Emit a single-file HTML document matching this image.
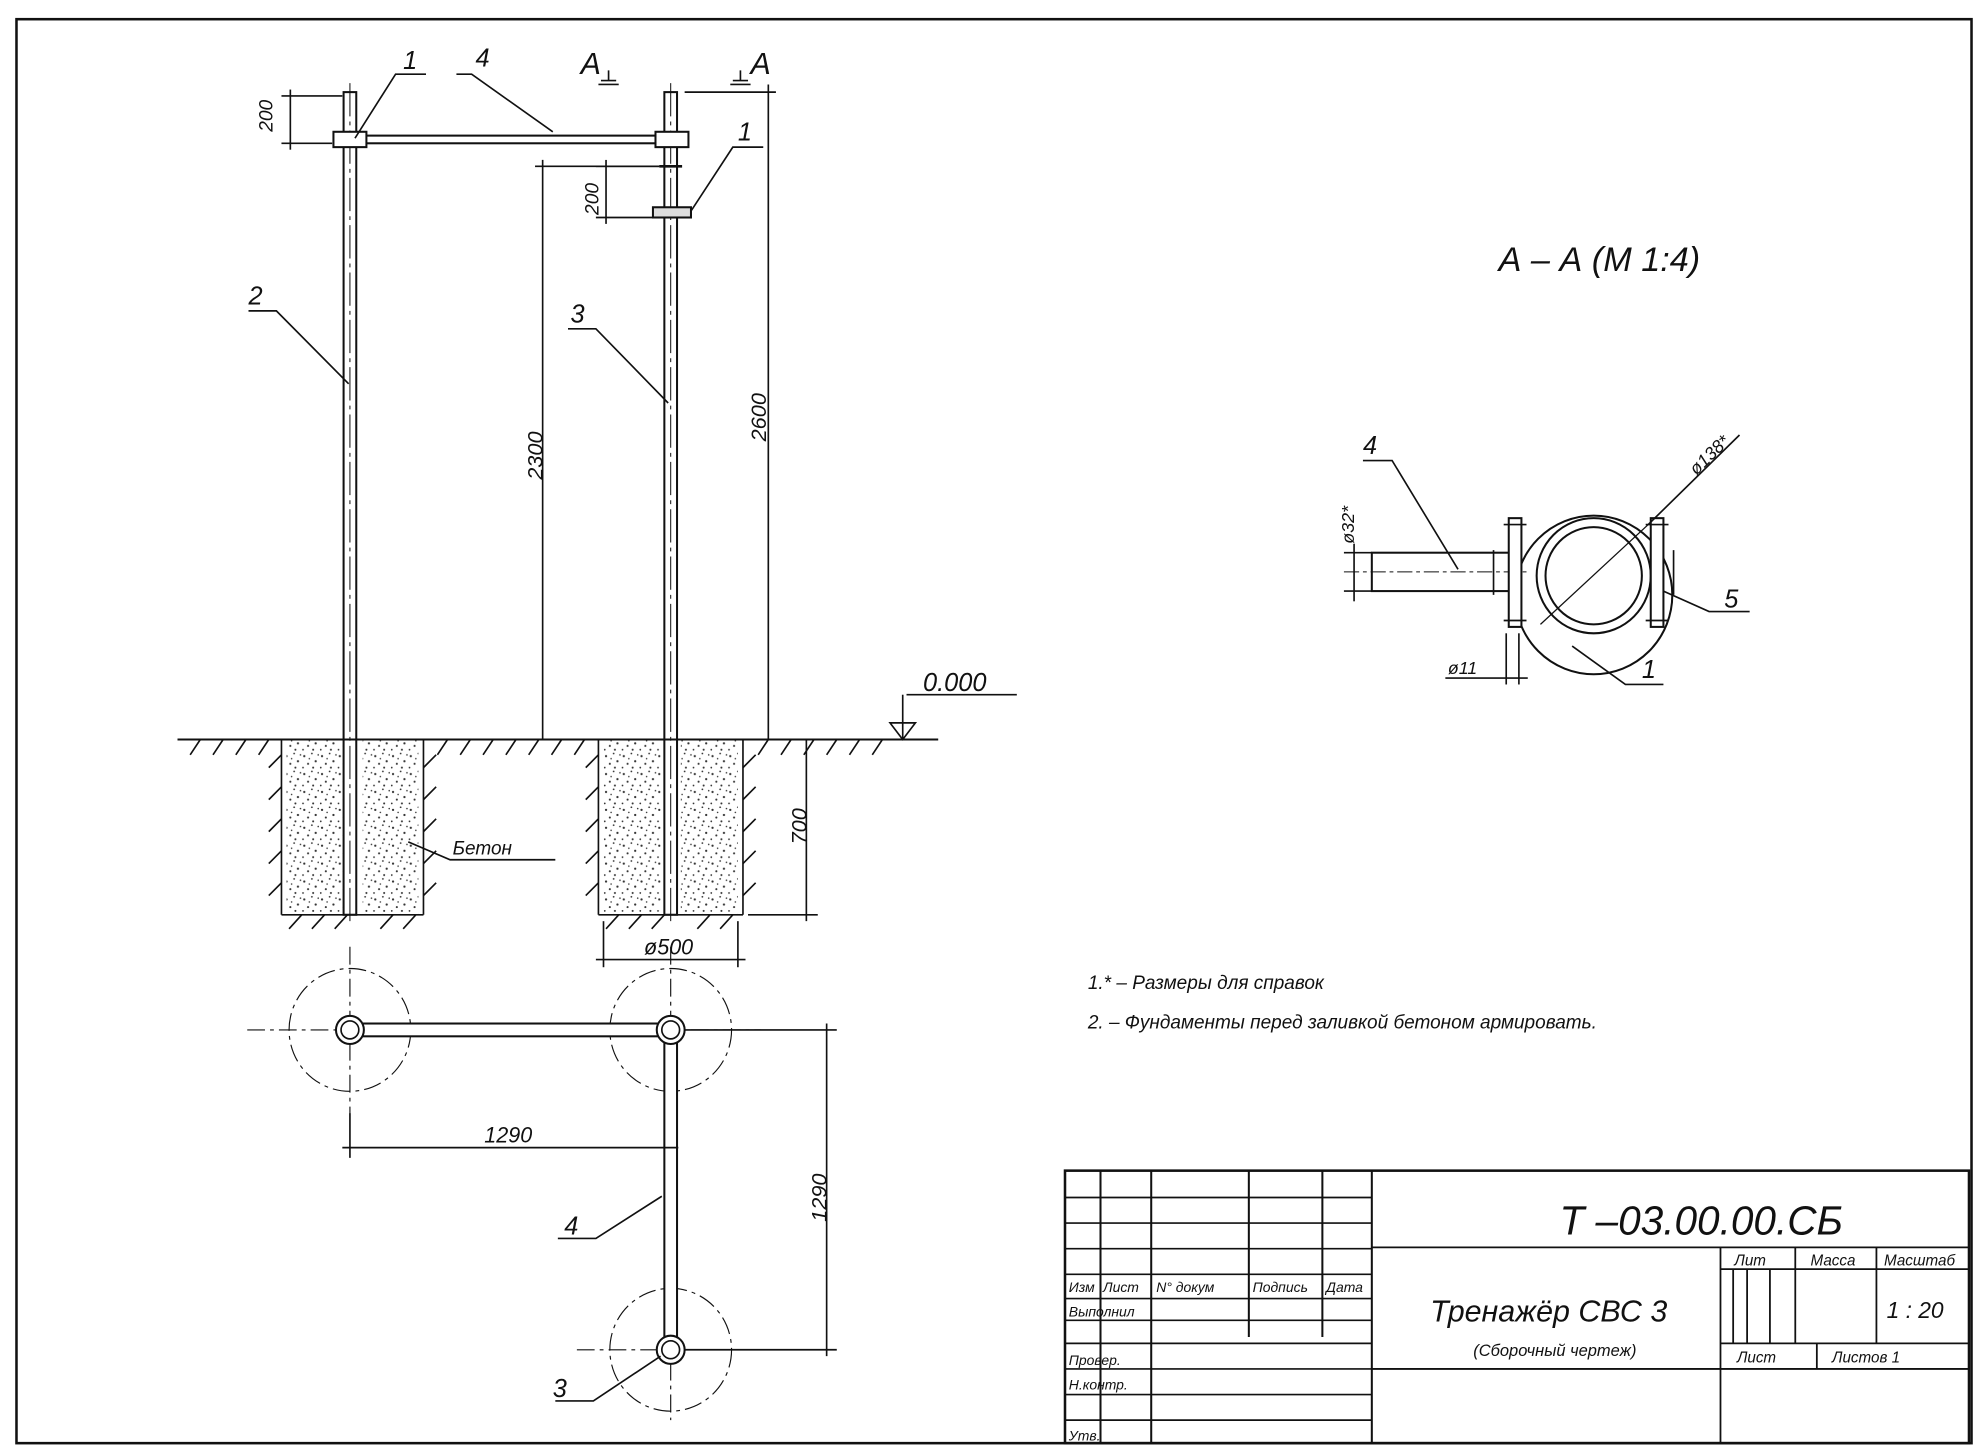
<!DOCTYPE html>
<html><head><meta charset="utf-8"><style>
html,body{margin:0;padding:0;background:#fff}
svg{display:block}
text{font-family:"Liberation Sans","DejaVu Sans",sans-serif;font-style:italic;fill:#111}
</style></head><body>
<svg width="1988" height="1447" viewBox="0 0 1568 1131" preserveAspectRatio="none" xmlns="http://www.w3.org/2000/svg">
<defs>
<pattern id="dots" width="14" height="14" patternUnits="userSpaceOnUse">
<circle cx="2" cy="3" r="0.9" fill="#333"/><circle cx="8" cy="1" r="0.7" fill="#333"/><circle cx="11" cy="7" r="0.9" fill="#333"/><circle cx="5" cy="9" r="0.8" fill="#333"/><circle cx="1" cy="12" r="0.7" fill="#333"/><circle cx="9" cy="12" r="0.8" fill="#333"/><circle cx="13" cy="2" r="0.6" fill="#333"/><circle cx="6" cy="5" r="0.6" fill="#333"/>
</pattern>
</defs>
<g fill="none" stroke="#111" stroke-width="1.3">
<!-- frame -->
<rect x="13" y="15" width="1542" height="1113" stroke-width="2"/>
<!-- foundations -->
<rect x="226" y="578" width="104" height="137" fill="url(#dots)" stroke="none"/>
<rect x="476" y="578" width="106" height="137" fill="url(#dots)" stroke="none"/>
<rect x="270" y="578" width="16" height="137" fill="#fff" stroke="none"/>
<rect x="521" y="578" width="16" height="137" fill="#fff" stroke="none"/>
<!-- posts -->
<rect x="271" y="72" width="10" height="643" fill="#fff" stroke-width="1.6"/>
<rect x="524" y="72" width="10" height="643" fill="#fff" stroke-width="1.6"/>
<line x1="276" y1="65" x2="276" y2="720" stroke-dasharray="26 4 3 4" stroke-width="0.8"/>
<line x1="529" y1="65" x2="529" y2="720" stroke-dasharray="26 4 3 4" stroke-width="0.8"/>
<!-- crossbar -->
<rect x="281" y="106" width="243" height="6" fill="#fff" stroke-width="1.6"/>
<rect x="263" y="103" width="26" height="12" fill="#fff" stroke-width="1.6"/>
<rect x="517" y="103" width="26" height="12" fill="#fff" stroke-width="1.6"/>
<rect x="515" y="162" width="30" height="8" fill="#ddd" stroke-width="1.6"/>
<line x1="520" y1="130" x2="538" y2="130" stroke-width="2"/>
<!-- dims -->
<line x1="222" y1="75" x2="270" y2="75"/><line x1="222" y1="112" x2="262" y2="112"/><line x1="229" y1="70" x2="229" y2="117"/>
<line x1="470" y1="130" x2="520" y2="130"/><line x1="470" y1="170" x2="515" y2="170"/><line x1="478" y1="125" x2="478" y2="175"/>
<line x1="422" y1="130" x2="520" y2="130"/><line x1="428" y1="125" x2="428" y2="578"/>
<line x1="540" y1="72" x2="612" y2="72"/><line x1="606" y1="66" x2="606" y2="578"/>
<line x1="590" y1="715" x2="645" y2="715"/><line x1="636" y1="578" x2="636" y2="720"/>
<line x1="476" y1="720" x2="476" y2="756"/><line x1="582" y1="720" x2="582" y2="756"/><line x1="470" y1="750" x2="588" y2="750"/>
<!-- ground -->
<line x1="140" y1="578" x2="740" y2="578" stroke-width="1.6"/>
<path d="M150 590l8-12M168 590l8-12M186 590l8-12M204 590l8-12M345 590l8-12M363 590l8-12M381 590l8-12M399 590l8-12M417 590l8-12M435 590l8-12M453 590l8-12M598 590l8-12M616 590l8-12M634 590l8-12M652 590l8-12M670 590l8-12M688 590l8-12"/>
<line x1="222" y1="578" x2="222" y2="715"/><line x1="334" y1="578" x2="334" y2="715"/>
<line x1="472" y1="578" x2="472" y2="715"/><line x1="586" y1="578" x2="586" y2="715"/>
<line x1="222" y1="715" x2="334" y2="715"/><line x1="472" y1="715" x2="586" y2="715"/>
<path d="M212 600l10-10M212 625l10-10M212 650l10-10M212 675l10-10M212 700l10-10M334 600l10-10M334 625l10-10M334 650l10-10M334 675l10-10M334 700l10-10M462 600l10-10M462 625l10-10M462 650l10-10M462 675l10-10M462 700l10-10M586 600l10-10M586 625l10-10M586 650l10-10M586 675l10-10M586 700l10-10M228 726l10-11M246 726l10-11M264 726l10-11M300 726l10-11M318 726l10-11M478 726l10-11M496 726l10-11M514 726l10-11M550 726l10-11M568 726l10-11"/>
<!-- level mark -->
<polyline points="715,543 802,543"/><line x1="712" y1="543" x2="712" y2="578"/><path d="M702 565L722 565L712 578Z"/>
<!-- leaders top -->
<polyline points="280,108 312,58 336,58"/>
<polyline points="436,103 372,58 360,58"/>
<polyline points="545,165 578,115 602,115"/>
<polyline points="275,300 218,243 196,243"/>
<polyline points="527,315 470,257 448,257"/>
<polyline points="322,658 355,672 438,672"/>
<path d="M480 55v8M474 63h12M472 66h16M584 55v8M578 63h12M576 66h16"/>
<!-- plan view -->
<g stroke-dasharray="14 4 3 4" stroke-width="0.9">
<circle cx="276" cy="805" r="48"/><circle cx="529" cy="805" r="48"/><circle cx="529" cy="1055" r="48"/>
<line x1="195" y1="805" x2="600" y2="805"/><line x1="276" y1="740" x2="276" y2="870"/>
<line x1="529" y1="740" x2="529" y2="1110"/><line x1="455" y1="1055" x2="600" y2="1055"/>
</g>
<rect x="284" y="800" width="237" height="10" fill="#fff" stroke-width="1.6"/>
<rect x="524" y="813" width="10" height="234" fill="#fff" stroke-width="1.6"/>
<circle cx="276" cy="805" r="11" fill="#fff" stroke-width="1.6"/><circle cx="276" cy="805" r="7"/>
<circle cx="529" cy="805" r="11" fill="#fff" stroke-width="1.6"/><circle cx="529" cy="805" r="7"/>
<circle cx="529" cy="1055" r="11" fill="#fff" stroke-width="1.6"/><circle cx="529" cy="1055" r="7"/>
<line x1="276" y1="870" x2="276" y2="905"/><line x1="270" y1="897" x2="535" y2="897"/>
<line x1="540" y1="805" x2="660" y2="805"/><line x1="540" y1="1055" x2="660" y2="1055"/><line x1="652" y1="800" x2="652" y2="1060"/>
<polyline points="522,935 470,968 440,968"/>
<polyline points="521,1060 468,1095 438,1095"/>
<!-- section A-A -->
<circle cx="1257" cy="465" r="62" stroke-width="1.6"/>
<circle cx="1257" cy="450" r="45" stroke-width="1.6"/>
<circle cx="1257" cy="450" r="38" stroke-width="1.6"/>
<rect x="1082" y="432" width="113" height="30" stroke-width="1.6" fill="#fff"/>
<line x1="1060" y1="447" x2="1205" y2="447" stroke-dasharray="12 3 3 3" stroke-width="0.8"/>
<rect x="1190" y="405" width="10" height="85" fill="#fff" stroke-width="1.6"/>
<rect x="1302" y="405" width="10" height="85" fill="#fff" stroke-width="1.6"/>
<path d="M1186 410h18M1186 485h18M1298 410h18M1298 485h18M1178 430v35M1320 430v35"/>
<line x1="1215" y1="488" x2="1300" y2="410" stroke-width="1"/>
<line x1="1300" y1="410" x2="1372" y2="340"/>
<line x1="1060" y1="432" x2="1082" y2="432"/><line x1="1060" y1="462" x2="1082" y2="462"/><line x1="1068" y1="425" x2="1068" y2="470"/>
<polyline points="1150,445 1098,360 1075,360"/>
<polyline points="1312,462 1348,478 1380,478"/>
<polyline points="1240,505 1282,535 1312,535"/>
<line x1="1188" y1="495" x2="1188" y2="535"/><line x1="1198" y1="495" x2="1198" y2="535"/><line x1="1140" y1="530" x2="1205" y2="530"/>
<!-- title block -->
<rect x="840" y="915" width="713" height="213" stroke-width="2"/>
<path d="M868 915v213M908 915v213M985 915v130M1043 915v130M1082 915v213" stroke-width="1.6"/>
<path d="M840 936h242M840 956h242M840 976h242M840 996h242M840 1015h242M840 1032h242M840 1050h242M840 1070h242M840 1090h242M840 1110h242"/>
<path d="M1082 975h471M1082 1070h471M1357 975v153M1357 992h196M1357 1050h196M1416 975v75M1480 975v75M1367 992v58M1378 992v58M1396 992v58M1433 1050v20" stroke-width="1.4"/>
</g>
<g font-size="17">
<text x="215" y="103" transform="rotate(-90 215 103)" font-size="15">200</text>
<text x="472" y="168" transform="rotate(-90 472 168)" font-size="15">200</text>
<text x="428" y="375" transform="rotate(-90 428 375)">2300</text>
<text x="604" y="345" transform="rotate(-90 604 345)">2600</text>
<text x="636" y="660" transform="rotate(-90 636 660)">700</text>
<text x="652" y="955" transform="rotate(-90 652 955)">1290</text>
<text x="1068" y="425" transform="rotate(-90 1068 425)" font-size="14">ø32*</text>
<text x="1338" y="372" transform="rotate(-44 1338 372)" font-size="14">ø138*</text>
<text x="508" y="746">ø500</text>
<text x="382" y="893">1290</text>
<text x="728" y="540" font-size="20">0.000</text>
<text x="318" y="54" font-size="20">1</text>
<text x="375" y="52" font-size="20">4</text>
<text x="582" y="110" font-size="20">1</text>
<text x="196" y="238" font-size="20">2</text>
<text x="450" y="252" font-size="20">3</text>
<text x="445" y="965" font-size="20">4</text>
<text x="436" y="1092" font-size="20">3</text>
<text x="1075" y="355" font-size="20">4</text>
<text x="1360" y="475" font-size="20">5</text>
<text x="1295" y="530" font-size="20">1</text>
<text x="1142" y="527" font-size="14">ø11</text>
<text x="357" y="668" font-size="15">Бетон</text>
<text x="458" y="58" font-size="24">A</text>
<text x="592" y="58" font-size="24">A</text>
<text x="1182" y="212" font-size="27">А – А (М 1:4)</text>
<text x="858" y="773" font-size="15">1.* – Размеры для справок</text>
<text x="858" y="804" font-size="15">2. – Фундаменты перед заливкой бетоном армировать.</text>
<text x="1230" y="965" font-size="32">Т –03.00.00.СБ</text>
<text x="1128" y="1033" font-size="24">Тренажёр СВС 3</text>
<text x="1162" y="1060" font-size="13">(Сборочный чертеж)</text>
<text x="1368" y="989" font-size="12">Лит</text>
<text x="1428" y="989" font-size="12">Масса</text>
<text x="1486" y="989" font-size="12">Масштаб</text>
<text x="1488" y="1030" font-size="18">1 : 20</text>
<text x="1370" y="1065" font-size="12">Лист</text>
<text x="1445" y="1065" font-size="12">Листов 1</text>
<text x="843" y="1010" font-size="11">Изм</text>
<text x="870" y="1010" font-size="11">Лист</text>
<text x="912" y="1010" font-size="11">N° докум</text>
<text x="988" y="1010" font-size="11">Подпись</text>
<text x="1046" y="1010" font-size="11">Дата</text>
<text x="843" y="1029" font-size="11">Выполнил</text>
<text x="843" y="1067" font-size="11">Провер.</text>
<text x="843" y="1086" font-size="11">Н.контр.</text>
<text x="843" y="1126" font-size="11">Утв.</text>
</g>
</svg>
</body></html>
